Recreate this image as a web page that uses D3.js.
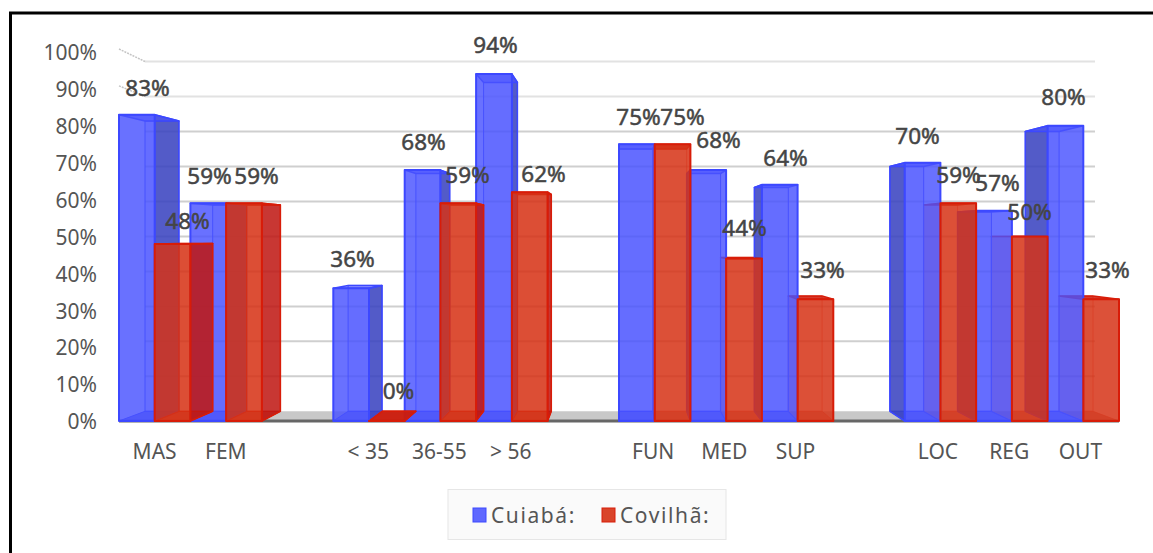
<!DOCTYPE html>
<html>
<head>
<meta charset="utf-8">
<script src="https://cdn.jsdelivr.net/npm/d3@7"></script>
<style>
html,body{margin:0;padding:0;background:#fff;}
svg{display:block;}
text{font-family:"Noto Sans",sans-serif;}
</style>
</head>
<body>
<svg id="chart" width="1153" height="553"></svg>
<script>
// Survey answers by group; blank categories separate the four groups.
const categories = ["MAS","FEM"," ","< 35","36-55","> 56","  ","FUN","MED","SUP","   ","LOC","REG","OUT"];
const cuiaba  = [83,59,null,36,68,94,null,75,68,64,null,70,57,80];
const covilha = [48,59,null,0,59,62,null,75,44,33,null,59,50,33];
const yTicks  = [0,10,20,30,40,50,60,70,80,90,100];
const seriesNames = ["Cuiabá:","Covilhã:"];

// Hand-placed offsets that keep the crowded value labels readable.
const labelDx = [
  [1,-7,0,-4,-3,-1,0,2,12,9,0,1,11,7],
  [6,5,0,7,6,12,0,11,3,11,0,7,8,16]
];
const labelDy = [
  [0,0,0,-2,-1,-2,0,0,-3,0,0,0,-1,-2],
  [4,0,0,-3,-1,9,0,0,-4,-2,0,-1,2,-2]
];

// Layout constants of the pseudo-3D projection.
const W = 1153, H = 553;
const vanishX = 619, vanishY = 235, depth = 0.052;
const svg = d3.select("#chart");

const x = d3.scaleBand().domain(categories).range([119,1119]);
const xLabels = d3.scaleBand().domain(categories).range([119,1116]);
const y = d3.scaleLinear().domain([0,100]).range([421,52]);
const bar = d3.scaleBand().domain([0,1]).range([0,x.bandwidth()]);

// Project a point of the front plane onto the rear plane.
const rear = ([px,py]) => [px+(vanishX-px)*depth, py+(vanishY-py)*depth];
const poly = pts => pts.map(p=>p.map(n=>n.toFixed(1)).join(",")).join(" ");

const palette = [
  {front:"rgba(72,82,255,.82)", side:"rgba(56,66,190,.85)", top:"rgba(72,82,255,.55)", floor:"rgba(60,70,255,.6)", back:"rgba(72,82,255,.12)", edge:"#3c48ff"},
  {front:"rgba(214,50,22,.85)", side:"rgba(190,24,20,.85)", top:"rgba(205,26,10,.85)", floor:"rgba(200,40,20,.7)", back:"rgba(214,50,22,.12)", edge:"#d81c08"}
];

// Frame round the figure
svg.append("path").attr("d",`M10.5,553V13H${W}`).attr("fill","none").attr("stroke","#000").attr("stroke-width",3);

// Rear wall gridlines and the left-wall stubs
const grid = svg.append("g");
yTicks.filter(t=>t>0).forEach(t=>{
  const a=[x.range()[0],y(t)], b=[x.range()[1],y(t)];
  const ra=rear(a), rb=rear(b);
  grid.append("line").attr("x1",ra[0]).attr("x2",rb[0]+2).attr("y1",ra[1]).attr("y2",rb[1])
    .attr("stroke",t>=90?"#e2e2e2":"#cfcfcf").attr("stroke-width",2);
  if(t>=90) grid.append("line").attr("x1",a[0]).attr("x2",ra[0]).attr("y1",a[1]-3).attr("y2",ra[1])
    .attr("stroke","#c4c4c4").attr("stroke-width",1.5).attr("stroke-dasharray","2 1");
});

// Floor
const f0=[x.range()[0],y(0)], f1=[x.range()[1],y(0)];
svg.append("polygon").attr("points",poly([f0,rear(f0),rear(f1),f1])).attr("fill","#c8c8c8");
svg.append("line").attr("x1",f0[0]).attr("x2",f1[0]).attr("y1",y(0)).attr("y2",y(0)).attr("stroke","#666").attr("stroke-width",3);

// Build the faces of one column
function faces(cat,val,s){
  const x0=x(cat)+bar(s), x1=x0+bar.bandwidth();
  const ft=[[x0,y(val)],[x1,y(val)]], fb=[[x0,y(0)],[x1,y(0)]];
  const FL=ft[0],FR=ft[1],BL=fb[0],BR=fb[1];
  const rFL=rear(FL),rFR=rear(FR),rBL=rear(BL),rBR=rear(BR);
  const c=palette[s];
  const sideOn = x0+bar.bandwidth()/2 < vanishX ? [FR,rFR,rBR,BR] : [FL,rFL,rBL,BL];
  return {
    isRight:x0>vanishX,
    rearFaces:[
      {pts:[rFL,rFR,rBR,rBL],fill:c.back,stroke:c.edge,w:1},
      {pts:[BL,rBL,rBR,BR],fill:c.floor,stroke:c.edge,w:1},
      {pts:sideOn,fill:c.side,stroke:c.edge,w:1.5}
    ],
    topFace:{pts:[FL,FR,rFR,rFL],fill:c.top,stroke:c.edge,w:1.5},
    frontFace:{pts:[FL,FR,BR,BL],fill:c.front,stroke:c.edge,w:2}
  };
}
function draw(g,list){
  g.selectAll("polygon").data(list).join("polygon")
   .attr("points",d=>poly(d.pts)).attr("fill",d=>d.fill)
   .attr("stroke",d=>d.stroke).attr("stroke-width",d=>d.w).attr("stroke-linejoin","round");
}
const blueCols=[],redCols=[];
categories.forEach((c,i)=>{
  if(cuiaba[i]!==null) blueCols.push(faces(c,cuiaba[i],0));
  if(covilha[i]!==null) redCols.push(faces(c,covilha[i],1));
});
// Stacking: red rear faces sit behind blue right of the vanishing point, in front of it to the left.
const redRight=redCols.filter(d=>d.isRight), redLeft=redCols.filter(d=>!d.isRight);
draw(svg.append("g").attr("opacity",.45),redRight.flatMap(d=>d.rearFaces));
draw(svg.append("g"),redRight.map(d=>d.topFace));
draw(svg.append("g"),blueCols.flatMap(d=>[...d.rearFaces,d.topFace,d.frontFace]));
draw(svg.append("g"),redLeft.flatMap(d=>[...d.rearFaces,d.topFace]));
draw(svg.append("g"),redCols.map(d=>d.frontFace));

// Axes
const yAxis=d3.axisLeft(y).tickValues(yTicks).tickFormat(d=>d+"%").tickSize(0).tickPadding(22);
const gy=svg.append("g").attr("transform","translate(119,1)").call(yAxis);
const xAxis=d3.axisBottom(xLabels).tickFormat(d=>d.trim()).tickSize(0).tickPadding(23);
const gx=svg.append("g").attr("transform",`translate(0,${y(0)})`).call(xAxis);
[gy,gx].forEach(g=>{
  g.select(".domain").remove();
  g.selectAll("text").attr("fill","#555").style("font-size","21px").style("font-family",'"Noto Sans",sans-serif');
});

// Value labels
const labels=svg.append("g").attr("fill","#454545").attr("stroke","#454545").attr("stroke-width",.5)
  .attr("text-anchor","middle").style("font-size","22.5px");
function labelRow(vals,s){
  categories.forEach((c,i)=>{
    if(vals[i]===null) return;
    const cx=x(c)+bar(s)+bar.bandwidth()/2;
    labels.append("text").attr("x",cx+(vanishX-cx)*0.02+labelDx[s][i])
      .attr("y",y(vals[i])-19+labelDy[s][i]).text(vals[i]+"%");
  });
}
labelRow(cuiaba,0); labelRow(covilha,1);

// Legend
const lg=svg.append("g");
lg.append("rect").attr("x",448).attr("y",489.5).attr("width",278).attr("height",50)
  .attr("fill","#fafafa").attr("stroke","#e6e6e6");
const legendX=[473,602], textX=[491,620];
seriesNames.forEach((n,i)=>{
  lg.append("rect").attr("x",legendX[i]).attr("y",508).attr("width",13).attr("height",14)
    .attr("fill",i?"#d9442a":"#5f68ff").attr("stroke",palette[i].edge);
  lg.append("text").attr("x",textX[i]).attr("y",523).attr("fill","#555").style("font-size","21px")
    .style("letter-spacing","1.6px").text(n);
});
</script>
</body>
</html>
